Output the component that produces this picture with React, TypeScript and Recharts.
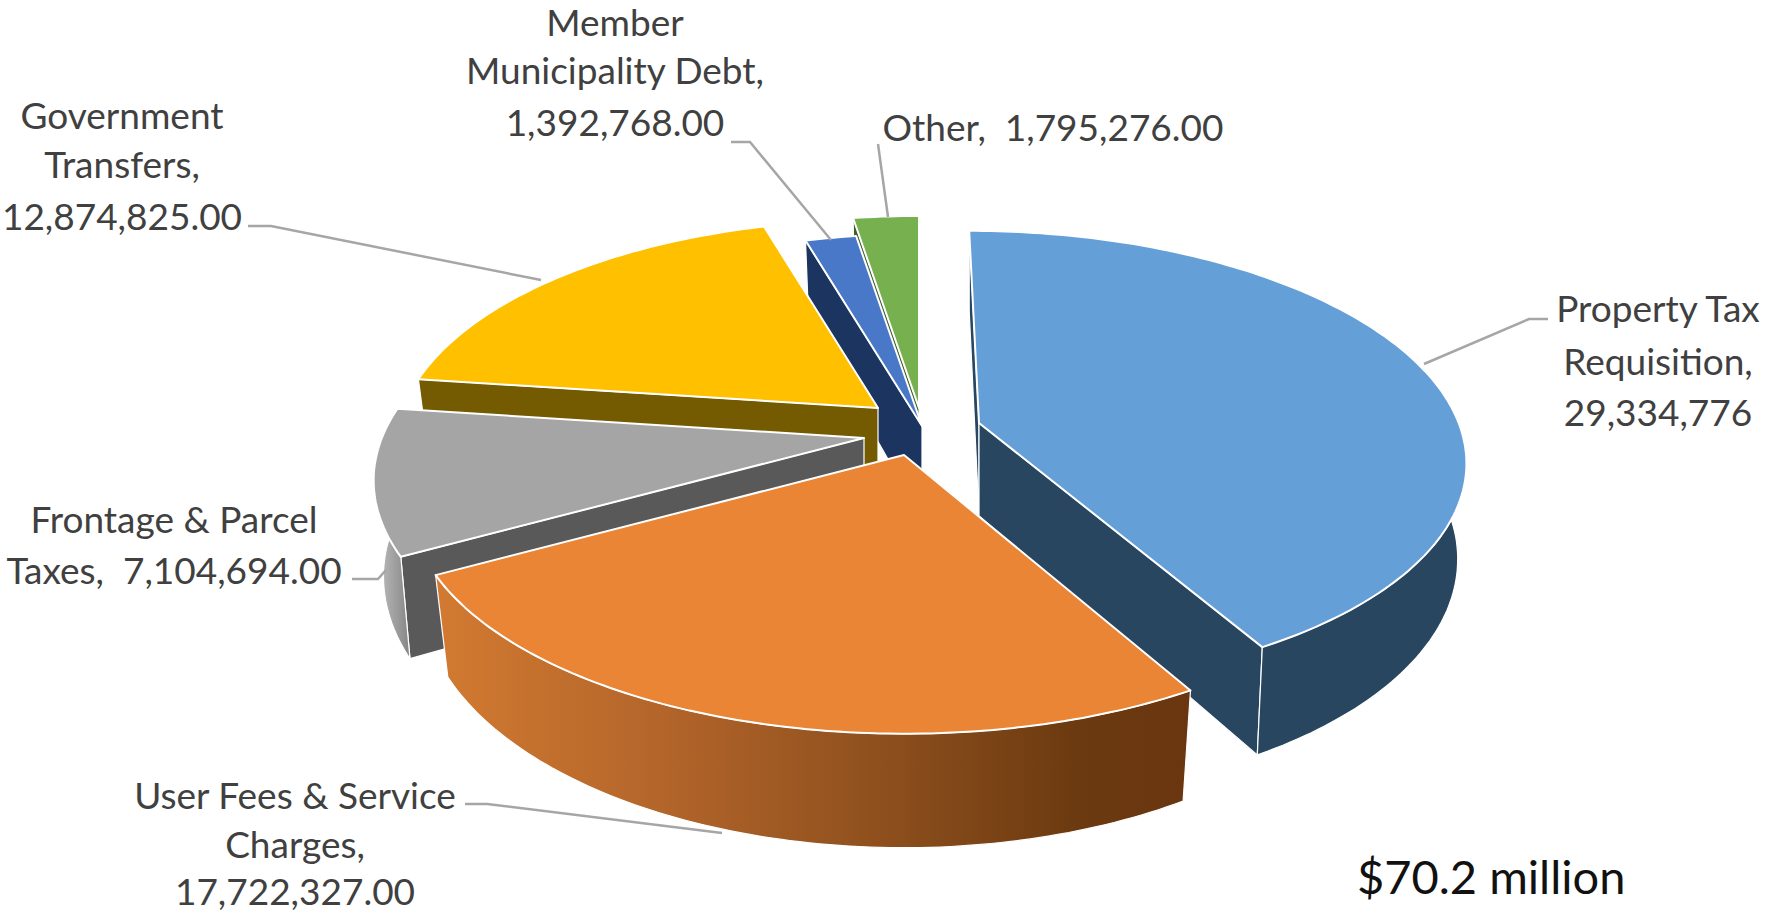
import React from "react";
import { PieChart, Pie } from "recharts";

const W = 1769, H = 914;

// Data (clock order, painted back to front)
const categories = ["Property Tax Requisition", "Other", "Member Municipality Debt", "Government Transfers", "Frontage & Parcel Taxes", "User Fees & Service Charges"];
const values = [29334776, 1795276, 1392768, 12874825, 7104694, 17722327];
const rows = categories.map((name, i) => ({ name, value: values[i] }));
const total = values.reduce((a, b) => a + b, 0);
const firstSweep = (values[0] / total) * 360;

// Styles
const topColors = ["#659FD7", "#76B04F", "#4A78C8", "#FFC000", "#A5A5A5", "#EA8535"];
const faceColors = ["#28465F", "#3F5F27", "#1B3560", "#745A00", "#595959", "#C9752E"];
const wallFills = ["#28465F", "#47682F", "#1B3560", "#745A00", "url(#grayWall)", "url(#orangeWall)"];
const apexes: [number, number][] = [[979, 423], [919, 408], [922, 426], [878, 408], [864, 438], [904, 455]];
const perspective = [0.16, 0.184, 0.184, 0.184, 0.184, 0.184];
const squash = [0.4638, 0.467, 0.467, 0.467, 0.467, 0.467];
const skew = [10, 0, 0, 0, 0, 0];
const sizeScale = [0.985, 1, 1, 0.975, 0.99, 1];
const convergence = [0.018, 0.026, 0.026, 0.026, 0.02, 0.026];

const labelLines: string[][] = [
  ["Property Tax", "Requisition,", "29,334,776"],
  ["Other,  1,795,276.00"],
  ["Member", "Municipality Debt,", "1,392,768.00"],
  ["Government", "Transfers,", "12,874,825.00"],
  ["Frontage & Parcel", "Taxes,  7,104,694.00"],
  ["User Fees & Service", "Charges,", "17,722,327.00"],
];
const labelCentreX = [1658, 1053, 615, 122, 174, 295];
const labelBaselines: number[][] = [[322, 375, 426], [141], [36, 84, 136], [129, 178, 230], [533, 584], [809, 858, 905]];
const leaders = [
  "1424,364 1529,319 1548,319",
  "878,144 888,217",
  "731,142 750,142 831,240",
  "248,226 271,226 541,280",
  "352,579 378,579 386,570",
  "465,804 487,804 722,833",
];

const DEPTH = 93;

function project(i: number, aDeg: number, R: number, z: number) {
  const [ox, oy] = apexes[i];
  const a = (aDeg * Math.PI) / 180;
  const X = R * Math.sin(a) * sizeScale[i];
  const Y = -R * Math.cos(a) * sizeScale[i];
  const k = 1 / (1 - (perspective[i] * Y) / R);
  const sx = ox + X * k * (1 - convergence[i] * z) + (skew[i] * Y) / R;
  const sy = oy + Y * squash[i] * k + z * DEPTH * k;
  return `${sx.toFixed(1)},${sy.toFixed(1)}`;
}

function Slice(props: any) {
  const { startAngle, endAngle, outerRadius: R, name } = props;
  const i = categories.indexOf(name);
  const [ox, oy] = apexes[i];
  const a1 = 90 - startAngle, a2 = 90 - endAngle;
  const lo = Math.min(a1, a2), hi = Math.max(a1, a2);
  const angles: number[] = [];
  for (let a = lo; a < hi; a += 1) angles.push(a);
  angles.push(hi);
  const isFront = (a: number) => {
    const m = ((a % 360) + 360) % 360;
    return m >= 80 && m <= 278;
  };
  const wallAngles = angles.filter(isFront);
  const rim = angles.map((a) => project(i, a, R, 0));
  const wallTop = wallAngles.map((a) => project(i, a, R, 0));
  const wallLow = wallAngles.map((a) => project(i, a, R, 1)).reverse();
  const apexTop = `${ox},${oy}`;
  const apexLow = `${ox},${oy + DEPTH}`;
  const face = (a: number) => `${apexTop} ${project(i, a, R, 0)} ${project(i, a, R, 1)} ${apexLow}`;
  const edge = "#FFFFFF";
  const showLoFace = Math.sin((lo * Math.PI) / 180) <= 1e-6;
  const showHiFace = Math.sin((hi * Math.PI) / 180) > 1e-6;
  return (
    <g>
      <defs>
        <linearGradient id="orangeWall" x1="0" x2="1" y1="0" y2="0">
          <stop offset="0" stopColor="#D27A31" />
          <stop offset="0.3" stopColor="#B3652A" />
          <stop offset="0.62" stopColor="#8A4D1C" />
          <stop offset="0.85" stopColor="#6C3A10" />
          <stop offset="1" stopColor="#693610" />
        </linearGradient>
        <linearGradient id="grayWall" x1="0" x2="1" y1="0" y2="0">
          <stop offset="0" stopColor="#C4C4C4" />
          <stop offset="1" stopColor="#858585" />
        </linearGradient>
      </defs>
      {showLoFace && <polygon points={face(lo)} fill={faceColors[i]} stroke={edge} strokeWidth={1.2} strokeLinejoin="round" />}
      {showHiFace && <polygon points={face(hi)} fill={faceColors[i]} stroke={edge} strokeWidth={1.2} strokeLinejoin="round" />}
      {wallAngles.length > 1 && (
        <polygon points={[...wallTop, ...wallLow].join(" ")} fill={wallFills[i]} stroke={edge} strokeWidth={1.2} strokeLinejoin="round" />
      )}
      <polygon points={[apexTop, ...rim].join(" ")} fill={topColors[i]} stroke={edge} strokeWidth={2} strokeLinejoin="round" />
    </g>
  );
}

function SliceLabel(props: any) {
  const i = categories.indexOf(props.name);
  return (
    <g>
      <polyline points={leaders[i]} fill="none" stroke="#A6A6A6" strokeWidth={2.5} />
      {labelLines[i].map((line, j) => (
        <text
          key={j}
          x={labelCentreX[i]}
          y={labelBaselines[i][j]}
          textAnchor="middle"
          fontFamily="Lato, Carlito, sans-serif"
          fontSize={37}
          fill="#404040"
          style={{ whiteSpace: "pre" }}
        >
          {line}
        </text>
      ))}
    </g>
  );
}

export default function App() {
  return (
    <div style={{ position: "absolute", left: 0, top: 0, width: W, height: H, background: "#fff", overflow: "hidden" }}>
      <PieChart width={W} height={H} margin={{ top: 0, right: 0, bottom: 0, left: 0 }}>
        <Pie
          data={rows}
          dataKey="value"
          nameKey="name"
          cx={900}
          cy={430}
          outerRadius={487}
          startAngle={90 - firstSweep}
          endAngle={90 - firstSweep + 360}
          isAnimationActive={false}
          stroke="none"
          shape={Slice}
          inactiveShape={Slice}
          activeShape={Slice}
          label={SliceLabel}
          labelLine={false}
        />
      </PieChart>
      <div
        style={{
          position: "absolute",
          left: 1357,
          top: 846,
          fontFamily: "Lato, Carlito, sans-serif",
          fontSize: 47,
          lineHeight: "60px",
          color: "#111",
          whiteSpace: "pre",
        }}
      >
        $70.2 million
      </div>
    </div>
  );
}
